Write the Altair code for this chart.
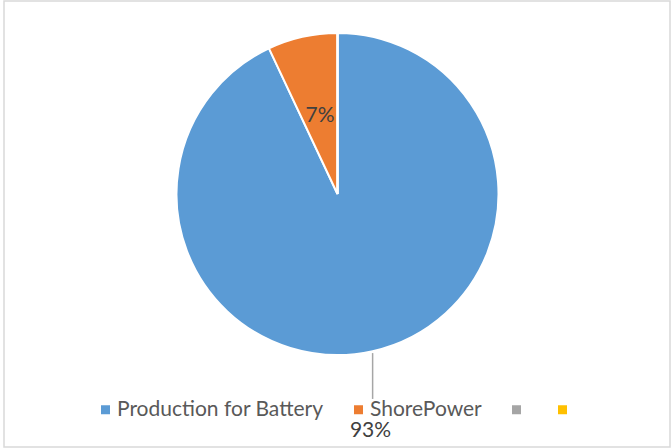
import altair as alt
import pandas as pd

categories = ["Production for Battery", "ShorePower", " ", "  "]
values = [93, 7, 0, 0]
labels = ["93%", "7%", "", ""]
colors = ["#5B9BD5", "#ED7D31", "#A5A5A5", "#FFC000"]

df = pd.DataFrame({
    "category": categories,
    "value": values,
    "label": labels,
    "order": list(range(len(categories))),
})

CX, CY, R = 333.5, 193, 161

base = alt.Chart(df)

theta = alt.Theta("value:Q", stack=True)
order = alt.Order("order:Q")

pie = base.mark_arc(outerRadius=R, stroke="white", strokeWidth=2, x=CX, y=CY).encode(
    theta=theta,
    order=order,
    color=alt.Color(
        "category:N",
        scale=alt.Scale(domain=categories, range=colors),
        sort=categories,
        legend=alt.Legend(
            orient="none", legendX=91, legendY=398, direction="horizontal",
            title=None, symbolType="square", symbolSize=81, symbolStrokeWidth=0,
            labelFont="Lato", labelFontSize=21, labelColor="#595959",
            labelLimit=400, columnPadding=24, labelOffset=1,
        ),
    ),
)

inner_text = base.transform_calculate(
    t="datum.category == 'ShorePower' ? datum.label : ''"
).mark_text(font="Lato", fontSize=21, color="#404040", x=CX, y=CY).encode(
    theta=theta, order=order, radius=alt.value(80), text="t:N"
)

outer_text = base.transform_calculate(
    t="datum.category == 'Production for Battery' ? datum.label : ''"
).mark_text(font="Lato", fontSize=21, color="#404040", x=CX, y=CY, dx=-20).encode(
    theta=theta, order=order, radius=alt.value(243), text="t:N"
)

leader = base.transform_joinaggregate(
    total="sum(value)"
).transform_window(
    cum="sum(value)", sort=[alt.SortField("order")], frame=[None, 0]
).transform_calculate(
    mid="(datum.cum - datum.value / 2) / datum.total * 2 * PI",
).transform_calculate(
    lx=f"{CX} + {R} * sin(datum.mid)",
    ly1=f"{CY} - {R + 2} * cos(datum.mid)",
    ly2=f"{CY} - 210 * cos(datum.mid)",
).transform_filter(
    alt.datum.category == "Production for Battery"
).mark_rule(color="#A6A6A6", strokeWidth=1.5).encode(
    x=alt.X("lx:Q", scale=None),
    y=alt.Y("ly1:Q", scale=None),
    y2="ly2:Q",
)

chart = alt.layer(pie, leader, inner_text, outer_text).properties(
    width=666, height=446,
    autosize=alt.AutoSizeParams(type="none"),
    padding={"left": 4, "top": 1, "right": 1, "bottom": 1},
    background="white",
).configure_view(stroke="#D9D9D9", strokeWidth=1.5)

chart.save("out.html", embed_options={"renderer": "svg", "actions": False})
